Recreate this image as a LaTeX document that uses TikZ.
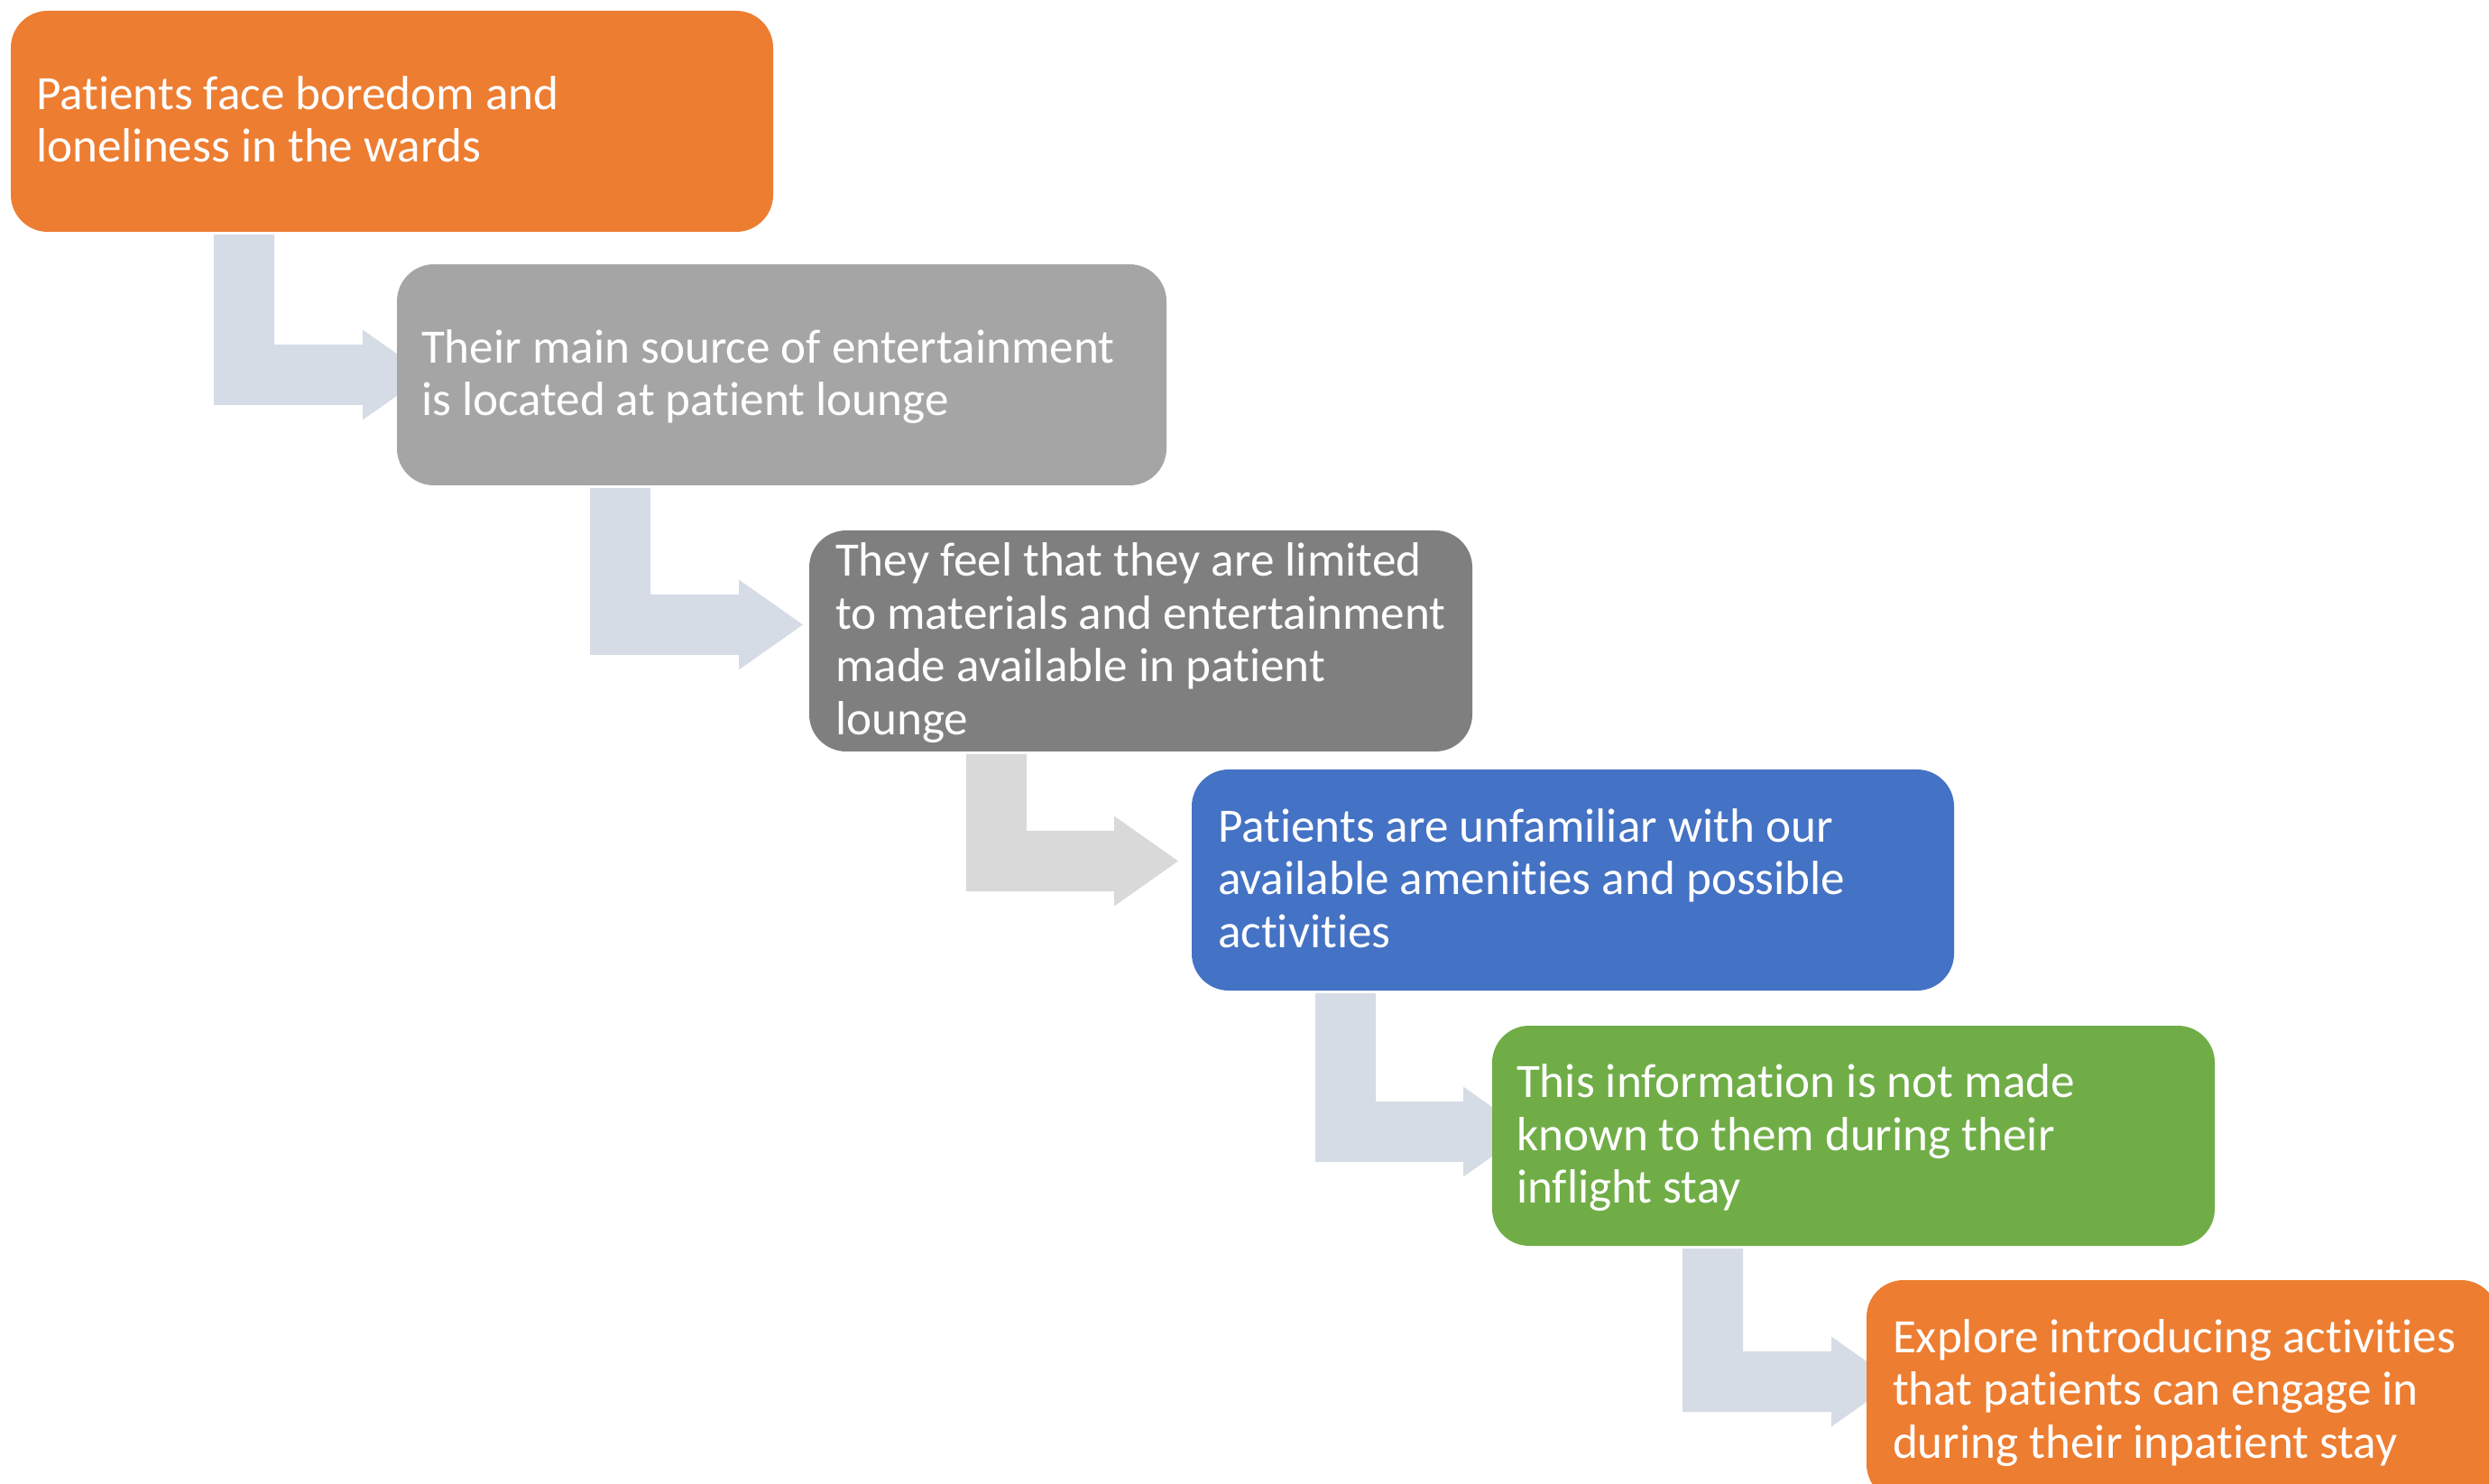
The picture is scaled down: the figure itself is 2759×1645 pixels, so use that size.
\documentclass[tikz,border=0pt]{standalone}
\usepackage{fontspec}
\setmainfont{Carlito}[Ligatures=NoCommon]
\usetikzlibrary{calc}
\pgfdeclarelayer{bg}
\pgfsetlayers{bg,main}
\definecolor{orangeC}{HTML}{ED7D31}
\definecolor{grayC}{HTML}{A5A5A5}
\definecolor{dgrayC}{HTML}{7F7F7F}
\definecolor{blueC}{HTML}{4472C4}
\definecolor{greenC}{HTML}{70AD47}
\definecolor{arrowC}{HTML}{D6DCE5}
\definecolor{arrowG}{HTML}{D9D9D9}
\tikzset{
  box/.style={rectangle, rounded corners=10.25pt, inner sep=0pt, outer sep=0pt, draw=none},
  txt/.style={anchor=base west, inner sep=0pt, outer sep=0pt, text=white, align=left,
    font=\fontsize{13.3pt}{14.625pt}\selectfont},
}
% #1 from node, #2 to node, #3 bar left x, #4 centre y, #5 head base x, #6 tip offset from #2.west, #7 colour
\newcommand\bentarr[7]{%
  \fill[#7] ($(#3,0 |- #1.south)+(0,3)$) -- ++(67,0) |- (#5,#4-33.5) -- (#5,#4-50)
    -- ($(#2.west |- 0,#4)+(#6,0)$) -- (#5,#4+50) -- (#5,#4+33.5) -- (#3,#4+33.5) -- cycle;
}
\begin{document}
\begin{tikzpicture}[x=0.25pt,y=-0.25pt]
\useasboundingbox (0,0) rectangle (2759,1645);
% boxes
\node[box, fill=orangeC, minimum width=845*0.25pt, minimum height=245*0.25pt] (b1) at (434.5,134.5) {};
\node[box, fill=grayC,   minimum width=853*0.25pt, minimum height=245*0.25pt] (b2) at (866.5,415.5) {};
\node[box, fill=dgrayC,  minimum width=735*0.25pt, minimum height=245*0.25pt] (b3) at (1264.5,710.5) {};
\node[box, fill=blueC,   minimum width=845*0.25pt, minimum height=245*0.25pt] (b4) at (1743.5,975.5) {};
\node[box, fill=greenC,  minimum width=801*0.25pt, minimum height=244*0.25pt] (b5) at (2054.5,1259) {};
\node[box, fill=orangeC, minimum width=700*0.25pt, minimum height=245*0.25pt] (b6) at (2419,1541.5) {};
% texts (anchor = baseline of the last line)
\node[txt] (t1) at ($(b1.west)+(28,45.5)$) {Patients face boredom and\\loneliness in the wards};
\node[txt] (t2) at ($(b2.west)+(27,45.5)$) {Their main source of entertainment\\is located at patient lounge};
\node[txt] (t3) at ($(b3.west)+(29,104)$) {They feel that they are limited\\to materials and entertainment\\made available in patient\\lounge};
\node[txt] (t4) at ($(b4.west)+(29,74.75)$) {Patients are unfamiliar with our\\available amenities and possible\\activities};
\node[txt] (t5) at ($(b5.west)+(27,74.75)$) {This information is not made\\known to them during their\\inflight stay};
\node[txt] (t6) at ($(b6.west)+(29,74.75)$) {Explore introducing activities\\that patients can engage in\\during their inpatient stay};
% bent arrows behind the boxes
\begin{pgfonlayer}{bg}
\bentarr{b1}{b2}{237}{415.5}{402}{33}{arrowC}
\bentarr{b2}{b3}{654}{692.5}{819}{-7}{arrowC}
\bentarr{b3}{b4}{1071}{954.5}{1235}{-15}{arrowG}
\bentarr{b4}{b5}{1458}{1254.5}{1622}{39}{arrowC}
\bentarr{b5}{b6}{1865}{1531.5}{2030}{32}{arrowC}
\end{pgfonlayer}
\end{tikzpicture}
\end{document}
